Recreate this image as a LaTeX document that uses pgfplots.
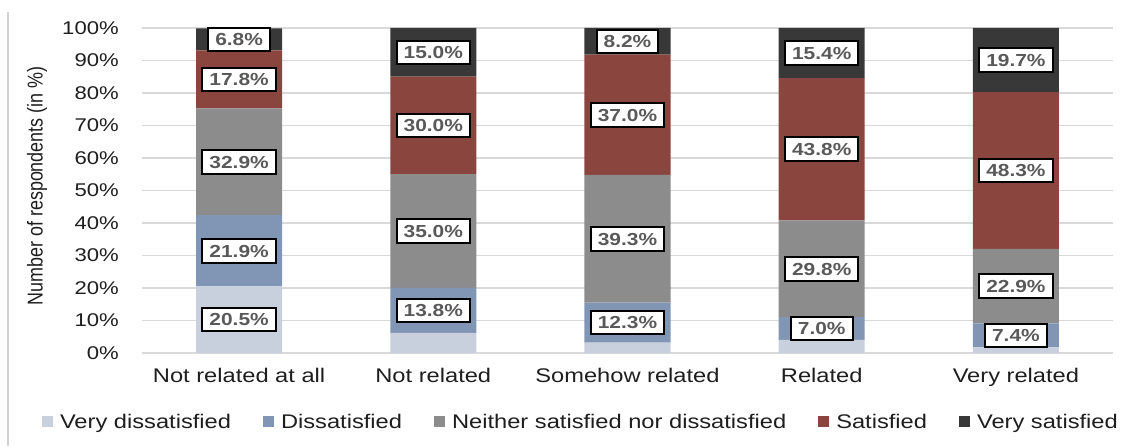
\documentclass[border=0pt]{standalone}
\usepackage{pgfplots}
\usepackage{pgfplotstable}
\pgfplotsset{compat=1.18}
\usepackage{fontspec}
\usepackage{graphicx}
\setmainfont{Liberation Sans}[FakeStretch=1.2]
\newfontfamily\plainsans{Liberation Sans}
\definecolor{cVD}{RGB}{200,208,222}
\definecolor{cD}{RGB}{128,150,180}
\definecolor{cN}{RGB}{140,140,140}
\definecolor{cS}{RGB}{138,70,62}
\definecolor{cVS}{RGB}{56,56,56}
\definecolor{lbl}{RGB}{89,89,89}
\definecolor{txt}{RGB}{30,30,30}
\pgfplotstableread{
x VD D N S VS
0 20.5 21.9 32.9 17.8 6.8
1 6.2 13.8 35.0 30.0 15.0
2 3.2 12.3 39.3 37.0 8.2
3 4.0 7.0 29.8 43.8 15.4
4 1.7 7.4 22.9 48.3 19.7
}\datatable
\pgfplotstableread{
x y v
0 10.25 20.5
0 31.45 21.9
0 58.85 32.9
0 84.2 17.8
0 96.5 6.8
1 13.1 13.8
1 37.5 35.0
1 70.0 30.0
1 92.5 15.0
2 9.35 12.3
2 35.15 39.3
2 73.3 37.0
2 95.9 8.2
3 7.5 7.0
3 25.9 29.8
3 62.7 43.8
3 92.3 15.4
4 5.4 7.4
4 20.55 22.9
4 56.15 48.3
4 90.15 19.7
}\labeltable
\pgfplotsset{
  common/.style={
    scale only axis, width=971bp, height=325bp,
    xmin=-0.5, xmax=4.5, ymin=0, ymax=100,
  }
}
\begin{document}
\begin{tikzpicture}[x=1bp,y=1bp]
\begin{axis}[
  common,
  ybar stacked, bar width=0.443,
  xtick={0,1,2,3,4},
  xticklabels={Not related at all, Not related, Somehow related, Related, Very related},
  ytick={0,10,...,100},
  yticklabel={\pgfmathprintnumber{\tick}\%},
  /pgf/number format/assume math mode=true,
  ymajorgrids, major grid style={draw=black!15, line width=1.3bp},
  axis line style={draw=none}, tick style={draw=none},
  yticklabel style={font=\fontsize{18.5}{20}\selectfont, text=txt, anchor=east, inner sep=0pt, xshift=-23bp},
  xticklabel style={font=\fontsize{19.8}{22}\selectfont, text=txt, anchor=north, inner sep=0pt, yshift=-15bp},
  every axis y label/.style={at={(axis description cs:-0.108,0.514)}, rotate=90, anchor=center, font=\plainsans\fontsize{18}{20}\selectfont, text=txt},
  ylabel={\scalebox{1}[1.2]{Number of respondents (in \%)}},
  legend columns=5,
  legend style={draw=none, fill=none, at={(axis description cs:0.451,-0.212)}, anchor=center,
    font=\fontsize{19.8}{22}\selectfont, text=txt, inner sep=0pt,
    nodes={inner sep=0pt},
    /tikz/every odd column/.append style={column sep=7bp},
    /tikz/every even column/.append style={column sep=32bp}},
  legend image code/.code={\fill[#1, draw=none] (0bp,-5.5bp) rectangle (11bp,5.5bp);},
]
\addplot[fill=cVD, draw=none] table[x=x,y=VD]{\datatable};
\addplot[fill=cD, draw=none] table[x=x,y=D]{\datatable};
\addplot[fill=cN, draw=none] table[x=x,y=N]{\datatable};
\addplot[fill=cS, draw=none] table[x=x,y=S]{\datatable};
\addplot[fill=cVS, draw=none] table[x=x,y=VS]{\datatable};
\legend{Very dissatisfied, Dissatisfied, Neither satisfied nor dissatisfied, Satisfied, Very satisfied}
\end{axis}
\begin{axis}[common, hide axis, clip=false, /pgf/number format/assume math mode=true]
\addplot[only marks, mark=*, mark size=0pt, mark options={draw=none, fill=none},
  point meta=explicit,
  nodes near coords={\pgfmathprintnumber[fixed,fixed zerofill,precision=1,assume math mode=true]{\pgfplotspointmeta}\%},
  every node near coord/.style={anchor=center, fill=white, draw=black, line width=2bp,
    font=\fontsize{17.5}{18}\selectfont\bfseries, text=lbl,
    inner xsep=7bp, inner ysep=5.5bp, text height=12.6bp, text depth=0pt}]
  table[x=x,y=y,meta=v]{\labeltable};
\end{axis}
\draw[black!18, line width=1.5bp] (-134,-93) -- (-134,341);
\path (-142,-93) rectangle (995,353);
\end{tikzpicture}
\end{document}
